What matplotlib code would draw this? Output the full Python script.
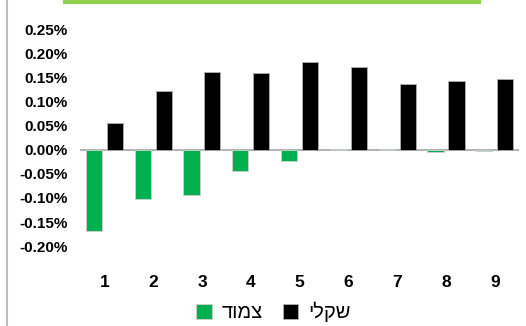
import matplotlib.pyplot as plt
import numpy as np
from matplotlib.lines import Line2D
from matplotlib.ticker import FuncFormatter

plt.rcParams['font.family'] = ['Liberation Sans', 'DejaVu Sans']

categories = ["1", "2", "3", "4", "5", "6", "7", "8", "9"]
tsamud = [-0.169, -0.103, -0.094, -0.045, -0.024, 0.002, 0.002, -0.004, -0.002]
shekli = [0.056, 0.121, 0.160, 0.158, 0.181, 0.171, 0.136, 0.142, 0.147]
# hebrew labels, reversed for left-to-right rendering
label_tsamud = "צמוד"[::-1]
label_shekli = "שקלי"[::-1]


def pct(v, pos):
    v = round(v, 4)
    if v == 0:
        v = 0.0
    return f"{v:.2f}%"


def main():
    fig = plt.figure(figsize=(5.26, 3.26), dpi=100)
    ax = fig.add_axes([0.152, 0.245, 0.835, 0.666])

    x = np.arange(len(categories))
    w = 0.33
    ax.bar(x - 0.215, tsamud, w, color="#00B050", edgecolor="#d0d0d0",
           linewidth=0.6, label=label_tsamud, zorder=2)
    ax.bar(x + 0.215, shekli, w, color="#000000", edgecolor="#b0b0b0",
           linewidth=0.6, label=label_shekli, zorder=2)
    ax.axhline(0, color="#a6a6a6", linewidth=1.2, zorder=1)

    ax.set_xlim(-0.5, len(categories) - 0.5)
    ax.set_ylim(-0.20, 0.25)
    ax.set_yticks(np.round(np.arange(-0.20, 0.2501, 0.05), 2))
    ax.yaxis.set_major_formatter(FuncFormatter(pct))
    ax.set_xticks(x)
    ax.set_xticklabels(categories)
    for s in ax.spines.values():
        s.set_visible(False)
    ax.tick_params(axis="y", length=0, labelsize=11, pad=9)
    ax.tick_params(axis="x", length=0, labelsize=12.5, pad=21)
    for lab in ax.get_yticklabels() + ax.get_xticklabels():
        lab.set_fontweight("bold")

    fig.legend(loc="center", bbox_to_anchor=(0.52, 0.043), ncol=2,
               frameon=False, fontsize=14.5, handlelength=0.75, handleheight=0.75,
               handletextpad=0.5, columnspacing=1.0)

    # decorations from the source slide
    fig.add_artist(Line2D([0.124, 0.911], [0.995, 0.995], color="#92D050",
                          linewidth=3, transform=fig.transFigure))
    fig.add_artist(Line2D([0.014, 0.014], [0, 1], color="#bfbfbf",
                          linewidth=1.5, transform=fig.transFigure))

    fig.savefig("out.png", dpi=100)


if __name__ == '__main__':
    main()
